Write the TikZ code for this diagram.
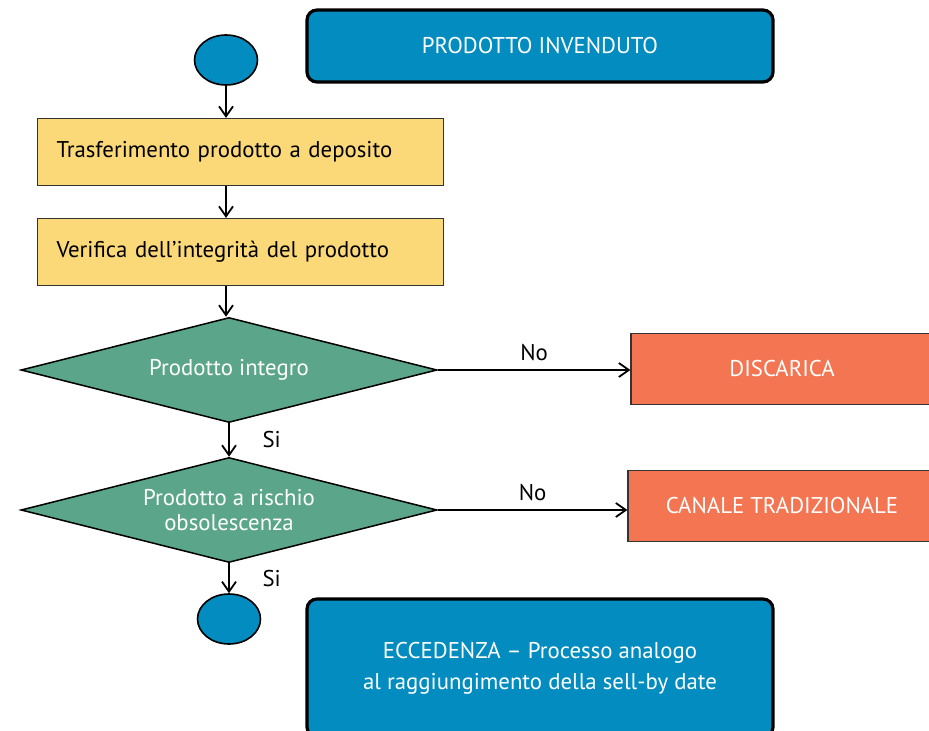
\documentclass[tikz,border=0pt]{standalone}
\usepackage{fontspec}
\setmainfont{PT Sans}
\usepackage{tikz}
\usetikzlibrary{positioning, arrows.meta, shapes.geometric}
\definecolor{bluebox}{HTML}{028CC0}
\definecolor{yellowbox}{HTML}{FBD979}
\definecolor{greenbox}{HTML}{5BA68A}
\definecolor{orangebox}{HTML}{F37552}

\begin{document}
\begin{tikzpicture}[x=0.5pt,y=-0.5pt,->,>={Straight Barb[length=5pt,width=7pt]},line width=0.9pt,
  font=\fontsize{11.4}{12.5}\selectfont,
  terminal/.style={ellipse,draw,fill=bluebox,inner sep=0pt,minimum width=31.5pt,minimum height=25pt,line width=0.8pt},
  stepbox/.style={rectangle,draw=black!80,fill=yellowbox,line width=0.6pt,minimum width=202.5pt,minimum height=33.5pt,
    text width=184pt,align=left,inner xsep=9.5pt},
  decision/.style={diamond,draw,fill=greenbox,text=white,aspect=4,inner sep=0pt,align=center,
    minimum width=208pt,minimum height=52.5pt,line width=0.75pt},
  outbox/.style={rectangle,draw=black!80,fill=orangebox,text=white,line width=0.6pt,minimum height=35.5pt},
  titlebox/.style={rectangle,rounded corners=5pt,draw,fill=bluebox,text=white,line width=1.6pt,
    minimum width=233pt,align=center},
  ]
  \path[use as bounding box, clip] (0,0) rectangle (929,731);

  \node[titlebox, minimum height=36pt] (tit) at (540,46) {PRODOTTO INVENDUTO};

  \node[terminal] (s1) at (226,60) {};
  \node[stepbox] (b1) at (240.5,152) {Trasferimento prodotto a deposito};
  \node[stepbox] (b2) at (240.5,252) {Verifica dell’integrità del prodotto};
  \node[decision] (d1) at (229,370) {Prodotto integro};
  \node[decision] (d2) at (229,510) {Prodotto a rischio\\obsolescenza};
  \node[terminal] (e1) at (229,619) {};

  \node[outbox, minimum width=151pt] (o1) at (782,369) {DISCARICA};
  \node[outbox, minimum width=154pt] (o2) at (782,506) {CANALE TRADIZIONALE};

  \node[titlebox, minimum height=69pt] (ecc) at (540,668)
    {ECCEDENZA~– Processo analogo\\[3pt]al raggiungimento della sell-by date};

  \draw (s1) -- (s1 |- b1.north);
  \draw (s1 |- b1.south) -- (s1 |- b2.north);
  \draw (s1 |- b2.south) -- (s1 |- d1.north);
  \draw (d1.south) -- (d2.north) node[midway, right=13pt, text=black]{Si};
  \draw (d2.south) -- (e1.north) node[midway, right=13pt, text=black]{Si};
  \draw (d1.east) -- (d1.east -| o1.west) node[midway, above=1pt]{No};
  \draw (d2.east) -- (d2.east -| o2.west) node[midway, above=1pt]{No};

  \end{tikzpicture}
\end{document}
